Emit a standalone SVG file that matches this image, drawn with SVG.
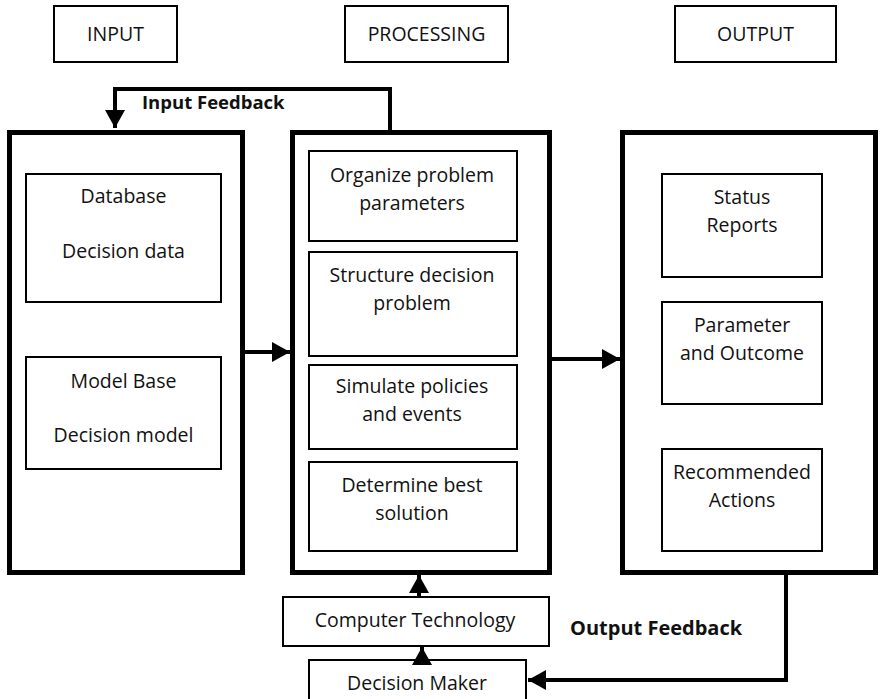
<svg xmlns="http://www.w3.org/2000/svg" width="880" height="699" viewBox="0 0 880 699">
  <style>
    .hdr { fill: #fff; stroke: #000; stroke-width: 2; }
    .big { fill: #fff; stroke: #000; stroke-width: 5; }
    .box { fill: #fff; stroke: #000; stroke-width: 2; }
    .t { font-family: "Open Sans", "Noto Sans", sans-serif; font-size: 19.5px; fill: #111; text-anchor: middle; }
    .b { font-family: "Open Sans", "Noto Sans", sans-serif; font-weight: bold; fill: #111; }
    .ln { fill: none; stroke: #000; stroke-width: 4; }
  </style>
  <defs>
    <marker id="ah" markerWidth="4.5" markerHeight="5" refX="4.5" refY="2.5" orient="auto" markerUnits="strokeWidth">
      <path d="M0,0 L4.5,2.5 L0,5 Z" fill="#000"/>
    </marker>
  </defs>

  <rect width="880" height="699" fill="#fff"/>

  <!-- column headers -->
  <g id="hdr-input"><rect class="hdr" x="54" y="6" width="123" height="56"/><text class="t" x="115.5" y="41">INPUT</text></g>
  <g id="hdr-processing"><rect class="hdr" x="345" y="6" width="163" height="56"/><text class="t" x="426.5" y="41">PROCESSING</text></g>
  <g id="hdr-output"><rect class="hdr" x="675" y="6" width="161" height="56"/><text class="t" x="755.5" y="41">OUTPUT</text></g>

  <!-- input column -->
  <g id="input">
    <rect class="big" x="9.5" y="132.5" width="233" height="440"/>
    <g id="database">
      <rect class="box" x="26" y="174" width="195" height="128"/>
      <text class="t" x="123.5" y="203">Database</text>
      <text class="t" x="123.5" y="258">Decision data</text>
    </g>
    <g id="modelbase">
      <rect class="box" x="26" y="357" width="195" height="112"/>
      <text class="t" x="123.5" y="388">Model Base</text>
      <text class="t" x="123.5" y="442">Decision model</text>
    </g>
  </g>

  <!-- processing column -->
  <g id="processing">
    <rect class="big" x="292.5" y="132.5" width="257" height="440"/>
    <g id="organize">
      <rect class="box" x="309" y="151" width="208" height="90"/>
      <text class="t" x="412" y="182">Organize problem</text>
      <text class="t" x="412" y="210">parameters</text>
    </g>
    <g id="structure">
      <rect class="box" x="309" y="252" width="208" height="104"/>
      <text class="t" x="412" y="282">Structure decision</text>
      <text class="t" x="412" y="310">problem</text>
    </g>
    <g id="simulate">
      <rect class="box" x="309" y="365" width="208" height="84"/>
      <text class="t" x="412" y="393">Simulate policies</text>
      <text class="t" x="412" y="421">and events</text>
    </g>
    <g id="determine">
      <rect class="box" x="309" y="462" width="208" height="89"/>
      <text class="t" x="412" y="492">Determine best</text>
      <text class="t" x="412" y="520">solution</text>
    </g>
  </g>

  <!-- output column -->
  <g id="output">
    <rect class="big" x="622.5" y="132.5" width="253" height="440"/>
    <g id="status">
      <rect class="box" x="662" y="174" width="160" height="103"/>
      <text class="t" x="742" y="204">Status</text>
      <text class="t" x="742" y="232">Reports</text>
    </g>
    <g id="parameter">
      <rect class="box" x="662" y="302" width="160" height="102"/>
      <text class="t" x="742" y="332">Parameter</text>
      <text class="t" x="742" y="360">and Outcome</text>
    </g>
    <g id="recommended">
      <rect class="box" x="662" y="449" width="160" height="102"/>
      <text class="t" x="742" y="479">Recommended</text>
      <text class="t" x="742" y="507">Actions</text>
    </g>
  </g>

  <!-- support boxes -->
  <g id="computer-technology">
    <rect class="box" x="283" y="597" width="266" height="49"/>
    <text class="t" x="415" y="627">Computer Technology</text>
  </g>
  <g id="decision-maker">
    <rect class="box" x="309" y="660" width="217" height="45"/>
    <text class="t" x="417" y="690">Decision Maker</text>
  </g>

  <!-- connectors -->
  <g id="connectors">
    <path class="ln" d="M245,352 H290" marker-end="url(#ah)"/>
    <path class="ln" d="M552,359 H620" marker-end="url(#ah)"/>
    <path class="ln" d="M390,130 V89 H115 V128" marker-end="url(#ah)"/>
    <path class="ln" d="M419,597 V575" marker-end="url(#ah)"/>
    <path class="ln" d="M422,660 V647" marker-end="url(#ah)"/>
    <path class="ln" d="M786,575 V680 H528" marker-end="url(#ah)"/>
    <text class="b" x="142" y="109" font-size="18.5">Input Feedback</text>
    <text class="b" x="570" y="635" font-size="20">Output Feedback</text>
  </g>
</svg>
